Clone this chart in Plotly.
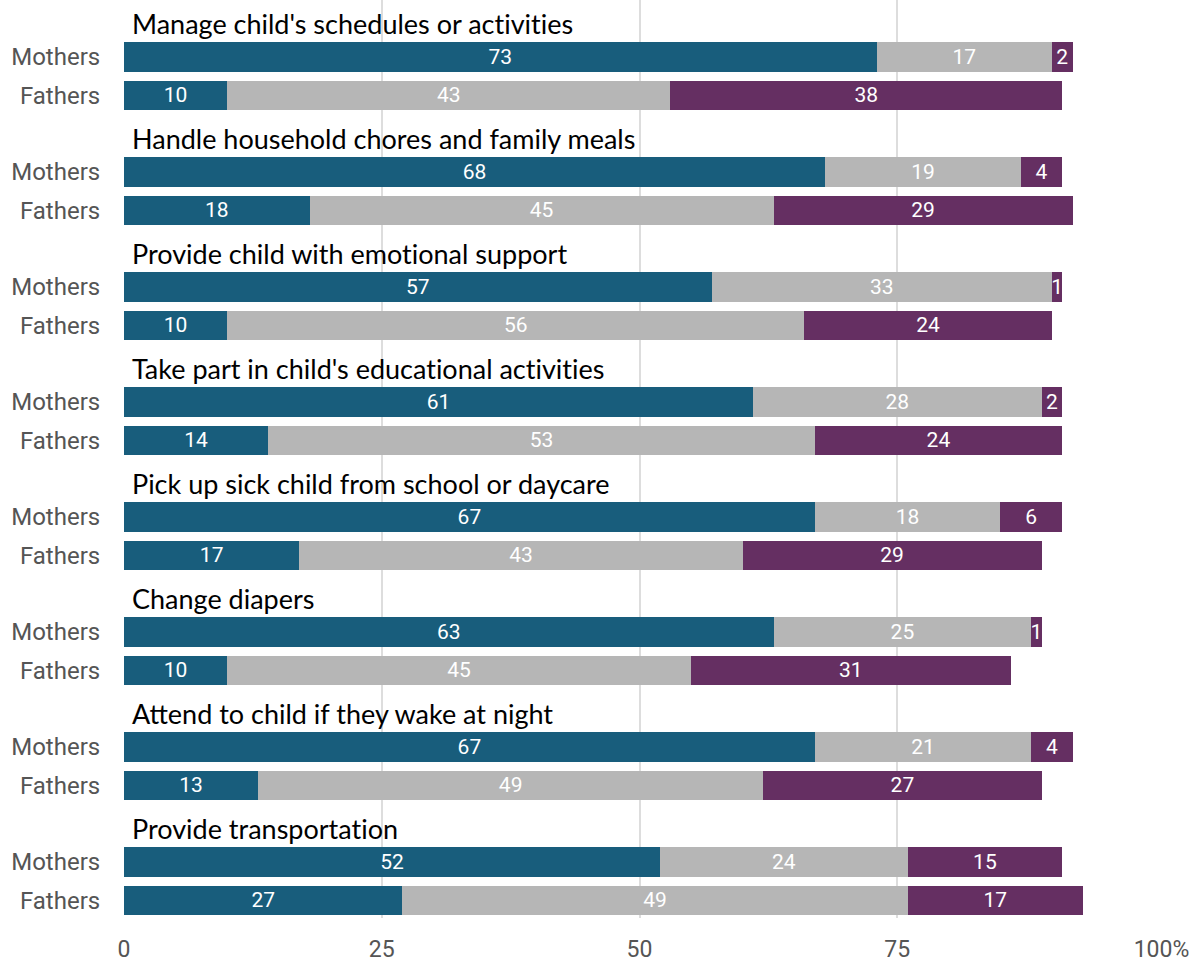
import plotly.graph_objects as go

# Survey tasks and shares (%) for each parent group
tasks = [
    "Manage child's schedules or activities",
    "Handle household chores and family meals",
    "Provide child with emotional support",
    "Take part in child's educational activities",
    "Pick up sick child from school or daycare",
    "Change diapers",
    "Attend to child if they wake at night",
    "Provide transportation",
]
groups = ["Mothers", "Fathers"]

mothers_more = [73, 68, 57, 61, 67, 63, 67, 52]
mothers_equal = [17, 19, 33, 28, 18, 25, 21, 24]
mothers_fathers = [2, 4, 1, 2, 6, 1, 4, 15]

fathers_more = [10, 18, 10, 14, 17, 10, 13, 27]
fathers_equal = [43, 45, 56, 53, 43, 45, 49, 49]
fathers_fathers = [38, 29, 24, 24, 29, 31, 27, 17]

x_ticks = [0, 25, 50, 75, 100]
x_tick_labels = ["0", "25", "50", "75", "100%"]

series = [
    ("Mother does more", mothers_more, fathers_more, "#185d7c"),
    ("Both share equally", mothers_equal, fathers_equal, "#b6b6b6"),
    ("Father does more", mothers_fathers, fathers_fathers, "#652f62"),
]

# Row layout: each task block spans 3 row units (title, Mothers, Fathers)
rows_m = [3 * i for i in range(len(tasks))]
rows_f = [3 * i + 1 for i in range(len(tasks))]
y_pos = []
for m, f in zip(rows_m, rows_f):
    y_pos += [m, f]

fig = go.Figure()
for name, mv, fv, color in series:
    vals = []
    for a, b in zip(mv, fv):
        vals += [a, b]
    fig.add_trace(go.Bar(
        x=vals, y=y_pos, orientation="h", name=name,
        marker=dict(color=color, line=dict(width=0)),
        width=0.77,
        text=[str(v) for v in vals],
        textposition="inside", insidetextanchor="middle",
        textangle=0, constraintext="none",
        textfont=dict(family="Roboto", size=21, color="white"),
        hoverinfo="skip",
    ))


def no_ligatures(s):
    # keep "ti" as two separate glyphs
    return s.replace("ti", "t\u200ci")


for i, t in enumerate(tasks):
    fig.add_annotation(
        x=0.6, y=rows_m[i] - 0.87, xref="x", yref="y",
        text=no_ligatures(t), showarrow=False, xanchor="left", yanchor="middle",
        font=dict(family="Lato", size=27, color="black"),
    )

tickvals = y_pos
ticktext = []
for _ in tasks:
    ticktext += groups

# centre the digits of the last label on its gridline, with "%" trailing
x_tick_text = x_tick_labels[:-1] + ["\u2007" + x_tick_labels[-1]]

fig.update_layout(
    barmode="stack",
    showlegend=False,
    width=1202, height=962,
    margin=dict(l=124, r=47, t=0, b=44),
    plot_bgcolor="white", paper_bgcolor="white",
    xaxis=dict(
        range=[0, 100], tickvals=x_ticks, ticktext=x_tick_text,
        showgrid=True, gridcolor="#dddddd", gridwidth=1.5,
        zeroline=False, showline=False,
        tickfont=dict(family="Roboto", size=23, color="#555555"),
        ticks="outside", ticklen=10, tickcolor="rgba(0,0,0,0)",
    ),
    yaxis=dict(
        range=[22.46, -1.487], tickvals=tickvals, ticktext=ticktext,
        showgrid=False, zeroline=False, showline=False,
        tickfont=dict(family="Roboto", size=24, color="#555555"),
        ticks="outside", ticklen=18, tickcolor="rgba(0,0,0,0)",
    ),
)

fig.write_html("out.html")
